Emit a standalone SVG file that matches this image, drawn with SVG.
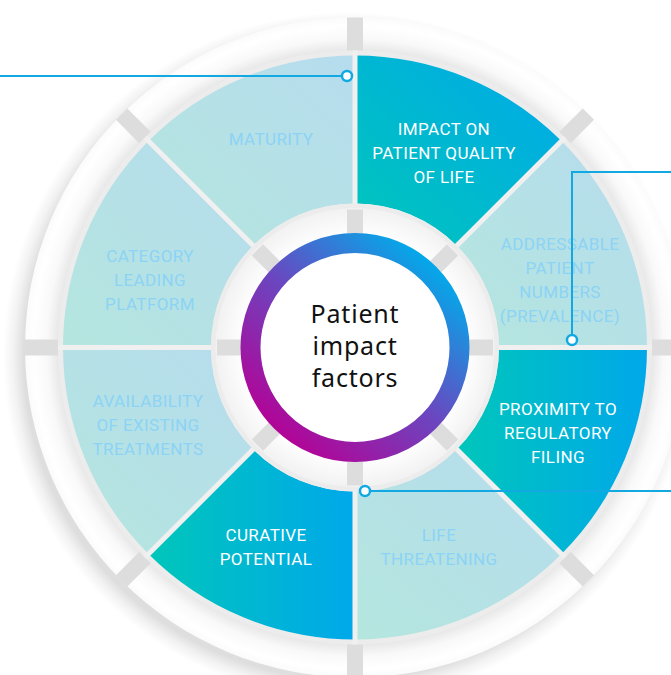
<svg xmlns="http://www.w3.org/2000/svg" width="671" height="675" viewBox="0 0 671 675">
<defs>
<radialGradient id="shadow" gradientUnits="userSpaceOnUse" cx="347" cy="356" r="344">
<stop offset="0.94" stop-color="#000" stop-opacity="0.13"/>
<stop offset="0.97" stop-color="#000" stop-opacity="0.05"/>
<stop offset="1" stop-color="#000" stop-opacity="0"/>
</radialGradient>
<radialGradient id="ring" gradientUnits="userSpaceOnUse" cx="355" cy="347.5" r="330">
<stop offset="0.9" stop-color="#e8e8e8"/>
<stop offset="0.935" stop-color="#f9f9f9"/>
<stop offset="0.975" stop-color="#ffffff"/>
<stop offset="1" stop-color="#fbfbfb"/>
</radialGradient>
<radialGradient id="hub" gradientUnits="userSpaceOnUse" cx="355" cy="347.5" r="139">
<stop offset="0.8" stop-color="#ffffff"/>
<stop offset="1" stop-color="#f2f2f2"/>
</radialGradient>
<linearGradient id="hlDiag" x1="0" y1="1" x2="1" y2="0">
<stop offset="0" stop-color="#00c6ba"/>
<stop offset="1" stop-color="#00a8ea"/>
</linearGradient>
<linearGradient id="hlH" x1="0" y1="0" x2="1" y2="0">
<stop offset="0" stop-color="#00c6ba"/>
<stop offset="1" stop-color="#00a8ea"/>
</linearGradient>
<linearGradient id="lt" x1="0" y1="1" x2="1" y2="0">
<stop offset="0" stop-color="#b4e6de"/>
<stop offset="1" stop-color="#b6dcee"/>
</linearGradient>
<linearGradient id="hubRing" x1="0.85" y1="0.1" x2="0.15" y2="0.9">
<stop offset="0" stop-color="#06a6e8"/>
<stop offset="0.5" stop-color="#6a47c0"/>
<stop offset="1" stop-color="#b00698"/>
</linearGradient>
</defs>
<style>
.tick{fill:#dddddd}
.sep{stroke:#f0f0f0;stroke-width:5}
.lbl{font-family:Roboto,"Liberation Sans",sans-serif;font-size:17px;letter-spacing:0.4px;text-anchor:middle}
.lt-t{fill:#8cd3f5}
.hl-t{fill:#ffffff}
.ctr{font-family:"Noto Sans","Open Sans",sans-serif;font-size:25px;letter-spacing:0.8px;text-anchor:middle;fill:#111}
.con{fill:none;stroke:#12a9e2;stroke-width:2}
.dot{fill:#ffffff;stroke:#12a9e2;stroke-width:2.5}
</style>
<rect width="671" height="675" fill="#ffffff"/>
<g id="frame">
<circle cx="347" cy="356" r="344" fill="url(#shadow)"/>
<circle cx="355" cy="347.5" r="330" fill="url(#ring)"/>
<circle cx="355" cy="347.5" r="297" fill="#ececec"/>
<g class="tick">
<rect x="347" y="17.5" width="16" height="33"/>
<rect x="347" y="17.5" width="16" height="33" transform="rotate(45 355 347.5)"/>
<rect x="347" y="17.5" width="16" height="33" transform="rotate(90 355 347.5)"/>
<rect x="347" y="17.5" width="16" height="33" transform="rotate(135 355 347.5)"/>
<rect x="347" y="17.5" width="16" height="33" transform="rotate(180 355 347.5)"/>
<rect x="347" y="17.5" width="16" height="33" transform="rotate(225 355 347.5)"/>
<rect x="347" y="17.5" width="16" height="33" transform="rotate(270 355 347.5)"/>
<rect x="347" y="17.5" width="16" height="33" transform="rotate(315 355 347.5)"/>
</g>
</g>
<g id="maturity">
<path d="M253.18 245.68 L148.52 141.02 A292 292 0 0 1 355 55.5 L355 203.5 A144 144 0 0 0 253.18 245.68 Z" fill="url(#lt)"/>
<text class="lbl lt-t" x="271" y="145">MATURITY</text>
</g>
<g id="impact-quality-of-life">
<path d="M355 203.5 L355 55.5 A292 292 0 0 1 561.48 141.02 L456.82 245.68 A144 144 0 0 0 355 203.5 Z" fill="url(#hlDiag)"/>
<text class="lbl hl-t" x="444" y="135">IMPACT ON</text>
<text class="lbl hl-t" x="444" y="159">PATIENT QUALITY</text>
<text class="lbl hl-t" x="444" y="183">OF LIFE</text>
</g>
<g id="addressable-patient-numbers">
<path d="M456.82 245.68 L561.48 141.02 A292 292 0 0 1 647 347.5 L499 347.5 A144 144 0 0 0 456.82 245.68 Z" fill="url(#lt)"/>
<text class="lbl lt-t" x="560" y="250">ADDRESSABLE</text>
<text class="lbl lt-t" x="560" y="274">PATIENT</text>
<text class="lbl lt-t" x="560" y="298">NUMBERS</text>
<text class="lbl lt-t" x="560" y="322">(PREVALENCE)</text>
</g>
<g id="proximity-regulatory-filing">
<path d="M499 347.5 L647 347.5 A292 292 0 0 1 561.48 553.98 L456.82 449.32 A144 144 0 0 0 499 347.5 Z" fill="url(#hlH)"/>
<text class="lbl hl-t" x="558" y="415">PROXIMITY TO</text>
<text class="lbl hl-t" x="558" y="439">REGULATORY</text>
<text class="lbl hl-t" x="558" y="463">FILING</text>
</g>
<g id="life-threatening">
<path d="M456.82 449.32 L561.48 553.98 A292 292 0 0 1 355 639.5 L355 491.5 A144 144 0 0 0 456.82 449.32 Z" fill="url(#lt)"/>
<text class="lbl lt-t" x="439" y="541">LIFE</text>
<text class="lbl lt-t" x="439" y="565">THREATENING</text>
</g>
<g id="curative-potential">
<path d="M355 491.5 L355 639.5 A292 292 0 0 1 148.52 553.98 L253.18 449.32 A144 144 0 0 0 355 491.5 Z" fill="url(#hlH)"/>
<text class="lbl hl-t" x="266" y="541">CURATIVE</text>
<text class="lbl hl-t" x="266" y="565">POTENTIAL</text>
</g>
<g id="availability-existing-treatments">
<path d="M253.18 449.32 L148.52 553.98 A292 292 0 0 1 63 347.5 L211 347.5 A144 144 0 0 0 253.18 449.32 Z" fill="url(#lt)"/>
<text class="lbl lt-t" x="148" y="407">AVAILABILITY</text>
<text class="lbl lt-t" x="148" y="431">OF EXISTING</text>
<text class="lbl lt-t" x="148" y="455">TREATMENTS</text>
</g>
<g id="category-leading-platform">
<path d="M211 347.5 L63 347.5 A292 292 0 0 1 148.52 141.02 L253.18 245.68 A144 144 0 0 0 211 347.5 Z" fill="url(#lt)"/>
<text class="lbl lt-t" x="150" y="262">CATEGORY</text>
<text class="lbl lt-t" x="150" y="286">LEADING</text>
<text class="lbl lt-t" x="150" y="310">PLATFORM</text>
</g>
<g id="separators">
<line class="sep" x1="58" y1="347.5" x2="652" y2="347.5"/>
<line class="sep" x1="355" y1="50.5" x2="355" y2="644.5"/>
<line class="sep" x1="145" y1="137.5" x2="565" y2="557.5"/>
<line class="sep" x1="565" y1="137.5" x2="145" y2="557.5"/>
</g>
<g id="patient-impact-factors">
<circle cx="355" cy="347.5" r="144" fill="#ececec"/>
<circle cx="355" cy="347.5" r="139.5" fill="url(#hub)"/>
<g class="tick">
<rect x="347" y="209.5" width="16" height="24"/>
<rect x="347" y="209.5" width="16" height="24" transform="rotate(45 355 347.5)"/>
<rect x="347" y="209.5" width="16" height="24" transform="rotate(90 355 347.5)"/>
<rect x="347" y="209.5" width="16" height="24" transform="rotate(135 355 347.5)"/>
<rect x="347" y="209.5" width="16" height="24" transform="rotate(180 355 347.5)"/>
<rect x="347" y="209.5" width="16" height="24" transform="rotate(225 355 347.5)"/>
<rect x="347" y="209.5" width="16" height="24" transform="rotate(270 355 347.5)"/>
<rect x="347" y="209.5" width="16" height="24" transform="rotate(315 355 347.5)"/>
</g>
<circle cx="355" cy="347.5" r="104.5" fill="#ffffff" stroke="url(#hubRing)" stroke-width="20"/>
<text class="ctr" x="355" y="323">Patient</text>
<text class="ctr" x="355" y="355">impact</text>
<text class="ctr" x="355" y="387">factors</text>
</g>
<g id="connectors">
<path class="con" d="M0 76 H341.5"/>
<circle class="dot" cx="347" cy="76" r="5"/>
<path class="con" d="M671 172 H572 V334.5"/>
<circle class="dot" cx="572" cy="340" r="5"/>
<path class="con" d="M671 491 H370.5"/>
<circle class="dot" cx="365" cy="491" r="5"/>
</g>
</svg>
